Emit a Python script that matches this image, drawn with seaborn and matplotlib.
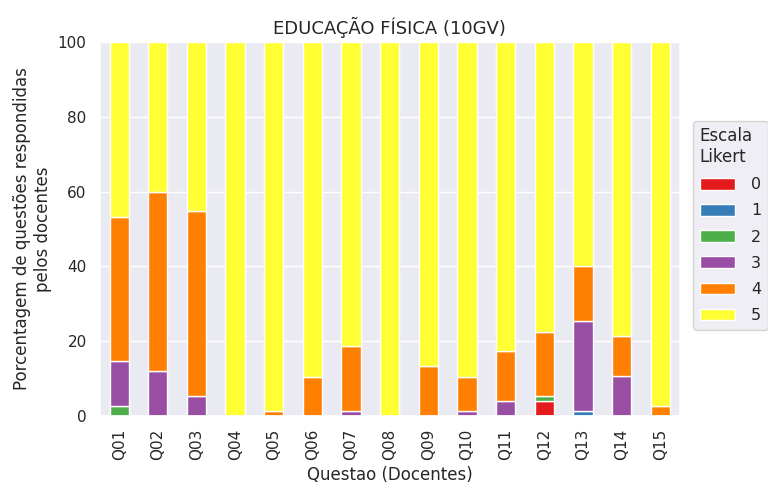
import seaborn as sns
import matplotlib.pyplot as plt
import pandas as pd

# questoes e escala Likert
questoes = ["Q%02d" % i for i in range(1, 16)]
escala = ["0", "1", "2", "3", "4", "5"]

# porcentagens (por nivel da escala)
p0 = [0, 0, 0, 0, 0, 0, 0, 0, 0, 0, 0, 3.9, 0, 0, 0]
p1 = [0, 0, 0, 0, 0, 0, 0, 0, 0, 0, 0, 0, 1.2, 0, 0]
p2 = [2.6, 0, 0, 0, 0, 0, 0, 0, 0, 0, 0, 1.3, 0, 0, 0]
p3 = [12.0, 12.0, 5.3, 0, 0, 0, 1.3, 0, 0, 1.2, 4.0, 0, 24.1, 10.7, 0]
p4 = [38.7, 48.0, 49.5, 0, 1.2, 10.5, 17.3, 0, 13.2, 9.3, 13.3, 17.3, 14.7, 10.7, 2.6]
p5 = [46.7, 40.0, 45.2, 100, 98.8, 89.5, 81.4, 100, 86.8, 89.5, 82.7, 77.5, 60.0, 78.6, 97.4]

sns.set_theme(style="darkgrid", palette="Set1")
plt.rcParams['font.family'] = ['DejaVu Sans']

df = pd.DataFrame(dict(zip(escala, [p0, p1, p2, p3, p4, p5])), index=questoes)

fig, ax = plt.subplots(figsize=(7.68, 4.95), dpi=100)
df.plot(kind="bar", stacked=True, ax=ax, width=0.5, edgecolor="white",
        linewidth=1, color=sns.color_palette("Set1", 6))

ax.set_ylim(0, 100)
ax.set_title("EDUCAÇÃO FÍSICA (10GV)", fontsize=13)
ax.set_xlabel("Questao (Docentes)", fontsize=12)
ax.set_ylabel("Porcentagem de questões respondidas\npelos docentes", fontsize=12)
ax.tick_params(axis="x", labelrotation=90, labelsize=11)
ax.tick_params(axis="y", labelsize=11)
ax.legend(title="Escala\nLikert", loc="center left", bbox_to_anchor=(1.01, 0.51),
          fontsize=11.5, title_fontsize=12, alignment="left",
          labelspacing=0.7, handlelength=2.2, handleheight=0.75,
          handletextpad=1.0)

plt.subplots_adjust(left=0.13, right=0.885, top=0.915, bottom=0.16)
plt.savefig("out.png", dpi=100)
